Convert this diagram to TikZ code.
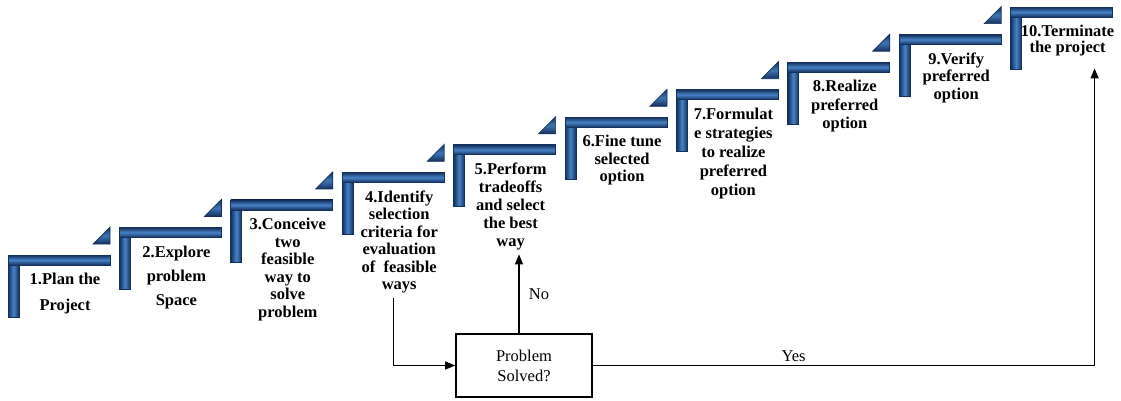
\documentclass[tikz,border=0pt]{standalone}
\usepackage{fontspec}
\setmainfont{Liberation Serif}
\usetikzlibrary{arrows.meta}

\definecolor{stepdark}{RGB}{20,48,92}
\definecolor{steplight}{RGB}{70,130,198}

\tikzset{
  steptext/.style={align=center, inner sep=0pt, anchor=north},
  hbar/.style={top color=stepdark, bottom color=stepdark, middle color=steplight, draw=stepdark, line width=0.7pt},
  vbar/.style={left color=stepdark, right color=stepdark, middle color=steplight, draw=stepdark, line width=0.7pt},
  corner/.style={top color=stepdark, bottom color=stepdark, middle color=steplight!85!stepdark, draw=stepdark, line width=0.7pt},
  decision/.style={draw, line width=1.6pt, minimum width=136pt, minimum height=63pt,
    font=\fontsize{16.5}{20}\selectfont, align=center},
  flow/.style={->, line width=1.2pt},
  flowlabel/.style={font=\fontsize{16.5}{18}\selectfont}
}

\begin{document}
\begin{tikzpicture}[x=1pt, y=-1pt, >={Triangle[length=10pt,width=8pt]}]

  \useasboundingbox (0,0) rectangle (1121,400);

  %-------------------------------------
  % ESCALONES (barra en L + texto)
  %-------------------------------------
  \foreach \k/\sp/\txt in {
      1/26/{1.Plan the\\Project},
      2/24/{2.Explore\\problem\\Space},
      3/17.5/{3.Conceive\\two\\feasible\\way to\\solve\\problem},
      4/17.5/{4.Identify\\selection\\criteria for\\evaluation\\of~ feasible\\ways},
      5/18/{5.Perform\\tradeoffs\\and select\\the best\\way},
      6/17.5/{6.Fine tune\\selected\\option},
      7/19/{7.Formulat\\e strategies\\to realize\\preferred\\option},
      8/18.5/{8.Realize\\preferred\\option},
      9/17.5/{9.Verify\\preferred\\option},
      10/16/{10.Terminate\\the project}}{
    \pgfmathsetmacro{\xk}{8+111.4*(\k-1)}
    \pgfmathsetmacro{\yk}{255-27.55*(\k-1)}
    \shadedraw[vbar] (\xk,\yk) rectangle ++(11,62);
    \shadedraw[hbar] (\xk,\yk) rectangle ++(102,10);
    \node[steptext, font=\bfseries\fontsize{16.5}{\sp}\selectfont] (s\k) at (\xk+57,\yk+18) {\txt};
  }

  % Triangulos de las esquinas
  \foreach \k in {1,...,9}{
    \pgfmathsetmacro{\xk}{8+111.4*(\k-1)}
    \pgfmathsetmacro{\yk}{255-27.55*(\k-1)}
    \shadedraw[corner] (\xk+102,\yk-28) -- (\xk+85,\yk-11) -- (\xk+102,\yk-11) -- cycle;
  }

  %-------------------------------------
  % DECISION
  %-------------------------------------
  \node[decision] (ps) at (524,365.5) {Problem\\Solved?};

  \draw[flow] ([xshift=-6pt, yshift=-5pt]s4.south) |- (ps.west);
  \draw[flow] ([xshift=-5pt]ps.north) -- ([xshift=-5pt, yshift=-4pt]ps.north |- s5.south)
    node[midway, right, flowlabel, xshift=6pt] {No};
  \draw[flow] (ps.east) -| ([xshift=27pt, yshift=-12pt]s10.south)
    node[pos=0.2, above, flowlabel] {Yes};

\end{tikzpicture}
\end{document}
